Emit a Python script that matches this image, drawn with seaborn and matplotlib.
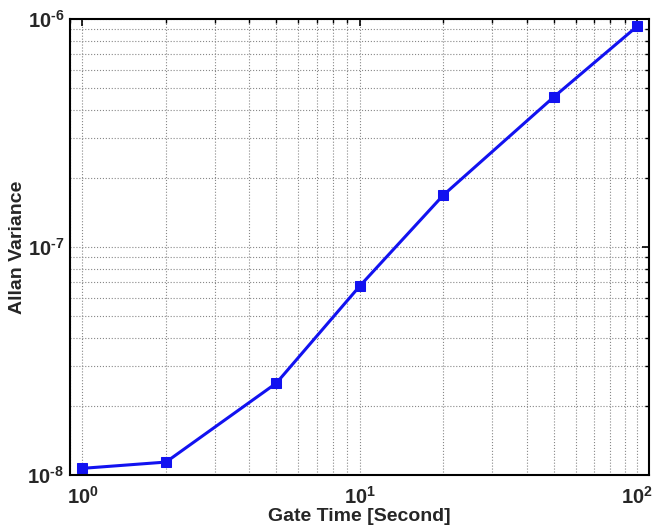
import seaborn as sns
import pandas as pd
import matplotlib.pyplot as plt
from matplotlib.ticker import FuncFormatter
import numpy as np

sns.set_style("white")
plt.rcParams["font.family"] = ["Liberation Sans", "DejaVu Sans"]
plt.rcParams["mathtext.fontset"] = "custom"
plt.rcParams["mathtext.rm"] = "Liberation Sans"
plt.rcParams["mathtext.bf"] = "Liberation Sans:bold"

gate_time = [1, 2, 5, 10, 20, 50, 100]
allan_var = [1.07e-8, 1.14e-8, 2.53e-8, 6.75e-8, 1.69e-7, 4.55e-7, 9.3e-7]

df = pd.DataFrame({"Gate Time": gate_time, "Allan Variance": allan_var})

fig = plt.figure(figsize=(6.52, 5.29), dpi=100)
ax = fig.add_axes([0.107, 0.102, 0.888, 0.862])

sns.lineplot(x="Gate Time", y="Allan Variance", data=df, ax=ax, color="#1212f0",
             marker="s", markersize=7, markeredgecolor="#1212f0", linewidth=2.2)

ax.set_xscale("log")
ax.set_yscale("log")
ax.set_xlim(0.9, 110)
ax.set_ylim(1e-8, 1e-6)


def dec(v, pos):
    e = int(round(np.log10(v)))
    s = str(abs(e))
    if e < 0:
        s = "\u2010" + s
    return r"$\mathbf{10^{%s}}$" % s


ax.xaxis.set_major_formatter(FuncFormatter(dec))
ax.yaxis.set_major_formatter(FuncFormatter(dec))

ax.grid(True, which="both", linestyle=":", color="#888888", linewidth=0.8)
ax.tick_params(which="both", direction="in", top=True, right=True, color="black")
ax.tick_params(which="major", length=5, width=1.2, labelsize=14.5)
ax.tick_params(axis="x", which="major", pad=8)
ax.tick_params(axis="y", which="major", pad=4)
ax.tick_params(which="minor", length=3, width=1)
for s in ax.spines.values():
    s.set_linewidth(1.5)
    s.set_color("black")

ax.set_xlabel("Gate Time [Second]", fontsize=14, fontweight="bold", labelpad=0)
ax.set_ylabel("Allan Variance", fontsize=14, fontweight="bold")
ax.yaxis.set_label_coords(-0.075, 0.5)

fig.canvas.draw()
# keep the last x label inside the figure
ax.get_xticklabels()[-2].set_x(97)

plt.savefig("out.png")
